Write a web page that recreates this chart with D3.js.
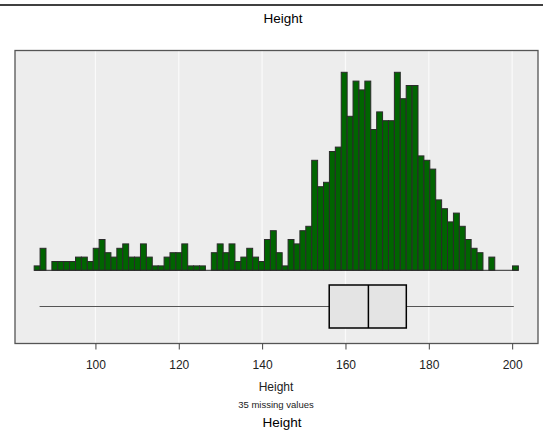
<!DOCTYPE html>
<html>
<head>
<meta charset="utf-8">
<script src="https://cdn.jsdelivr.net/npm/d3@7"></script>
<style>
  body { margin: 0; background: #fff; }
  svg { display: block; font-family: "Liberation Sans", Arial, sans-serif; }
</style>
</head>
<body>
<div class="chart"></div>
<script>
// histogram of Height: bins of equal width starting at binStart
var binStart = 85.3,
  binWidth = 1.417;
var counts = [1, 5, 0, 2, 2, 2, 2, 3, 3, 2, 5, 7, 4, 3, 5, 6, 3, 3, 6, 3,
  1, 1, 3, 4, 4, 6, 1, 1, 1, 0, 4, 6, 4, 6, 2, 3, 5, 3, 2, 7,
  9, 4, 1, 7, 6, 9, 10, 25, 19, 20, 27, 28, 45, 35, 43, 41, 43, 32, 36, 34,
  34, 45, 39, 42, 42, 26, 25, 23, 16, 14, 11, 13, 10, 7, 5, 4, 0, 3, 0, 0,
  0, 1];
// min, q1, median, q3, max
var boxStats = [86.6, 156.1, 165.5, 174.6, 200.4];
var xTicks = [100, 120, 140, 160, 180, 200];
var missing = 35;

var width = 543,
  height = 431;

var svg = d3.select(".chart")
  .append("svg")
  .attr("width", width)
  .attr("height", height);

var panel = { left: 15, right: 538, top: 50.5, bottom: 343.5 };

var x = d3.scaleLinear()
  .domain([80.7, 206.2])
  .range([panel.left, panel.right]);

var y = d3.scaleLinear()
  .domain([0, 46])
  .range([270.3, 270.3 - 46 * 4.4]);

// top rule and title
svg.append("line")
  .attr("x1", 0).attr("x2", width)
  .attr("y1", 5).attr("y2", 5)
  .attr("stroke", "#000")
  .attr("stroke-width", 1.5);

svg.append("text")
  .attr("x", 283).attr("y", 23)
  .attr("text-anchor", "middle")
  .attr("font-size", 13.5)
  .text("Height");

// panel background + grid
svg.append("rect")
  .attr("x", panel.left).attr("y", panel.top)
  .attr("width", panel.right - panel.left)
  .attr("height", panel.bottom - panel.top)
  .attr("fill", "#ededed");

svg.append("g")
  .selectAll("line")
  .data(xTicks)
  .enter().append("line")
  .attr("x1", function (d) { return x(d); })
  .attr("x2", function (d) { return x(d); })
  .attr("y1", panel.top).attr("y2", panel.bottom)
  .attr("stroke", "#fafafa")
  .attr("stroke-width", 1.2);

/* ------- HISTOGRAM -------*/
var bins = counts.map(function (c, i) {
  return { x0: binStart + i * binWidth, x1: binStart + (i + 1) * binWidth, n: c };
});

svg.append("g")
  .attr("class", "bars")
  .selectAll("rect")
  .data(bins.filter(function (d) { return d.n > 0; }))
  .enter().append("rect")
  .attr("x", function (d) { return x(d.x0); })
  .attr("width", function (d) { return x(d.x1) - x(d.x0); })
  .attr("y", function (d) { return y(d.n); })
  .attr("height", function (d) { return y(0) - y(d.n); })
  .attr("fill", "#006400")
  .attr("stroke", "#2b2b2b")
  .attr("stroke-width", 1);

svg.append("line")
  .attr("x1", x(binStart)).attr("x2", x(binStart + counts.length * binWidth))
  .attr("y1", y(0)).attr("y2", y(0))
  .attr("stroke", "#2b2b2b")
  .attr("stroke-width", 1);

/* ------- BOXPLOT -------*/
var boxTop = 285,
  boxBottom = 328,
  boxMid = (boxTop + boxBottom) / 2;

svg.append("line")
  .attr("x1", x(boxStats[0])).attr("x2", x(boxStats[4]))
  .attr("y1", boxMid).attr("y2", boxMid)
  .attr("stroke", "#555")
  .attr("stroke-width", 1);

svg.append("rect")
  .attr("x", x(boxStats[1]))
  .attr("width", x(boxStats[3]) - x(boxStats[1]))
  .attr("y", boxTop)
  .attr("height", boxBottom - boxTop)
  .attr("fill", "#e4e4e4")
  .attr("stroke", "#000")
  .attr("stroke-width", 1.5);

svg.append("line")
  .attr("x1", x(boxStats[2])).attr("x2", x(boxStats[2]))
  .attr("y1", boxTop).attr("y2", boxBottom)
  .attr("stroke", "#000")
  .attr("stroke-width", 1.5);

// panel border
svg.append("rect")
  .attr("x", panel.left).attr("y", panel.top)
  .attr("width", panel.right - panel.left)
  .attr("height", panel.bottom - panel.top)
  .attr("fill", "none")
  .attr("stroke", "#555")
  .attr("stroke-width", 1.3);

/* ------- AXIS -------*/
var axis = svg.append("g")
  .attr("transform", "translate(0," + panel.bottom + ")")
  .call(d3.axisBottom(x).tickValues(xTicks).tickSize(6).tickPadding(10.5));

axis.select(".domain").remove();
axis.selectAll(".tick line").attr("stroke", "#444");
axis.selectAll(".tick text")
  .attr("fill", "#222")
  .attr("font-size", 12)
  .attr("font-family", "Liberation Sans, Arial, sans-serif");

svg.append("text")
  .attr("x", 276).attr("y", 391)
  .attr("text-anchor", "middle")
  .attr("font-size", 12)
  .attr("fill", "#222")
  .text("Height");

svg.append("text")
  .attr("x", 276).attr("y", 407.5)
  .attr("text-anchor", "middle")
  .attr("font-size", 9.5)
  .attr("fill", "#222")
  .text(missing + " missing values");

svg.append("text")
  .attr("x", 282).attr("y", 427)
  .attr("text-anchor", "middle")
  .attr("font-size", 13.5)
  .attr("fill", "#000")
  .text("Height");
</script>
</body>
</html>
